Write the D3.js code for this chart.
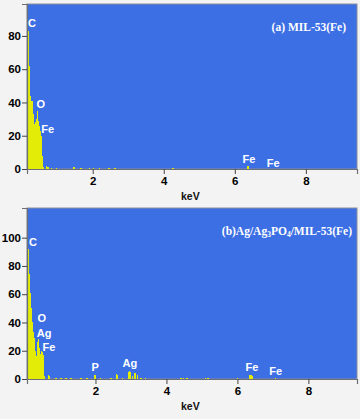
<!DOCTYPE html>
<html>
<head>
<meta charset="utf-8">
<script src="https://cdnjs.cloudflare.com/ajax/libs/d3/7.8.5/d3.min.js"></script>
<style>
	body { margin: 0; background: #f3f3f3; }
	svg { display: block; }
	.tick text { font-family: "Liberation Sans", Arial, sans-serif; font-weight: bold; font-size: 11.5px; fill: #000; }
	.peak { font-family: "Liberation Sans", Arial, sans-serif; font-weight: bold; font-size: 11px; fill: #fff; }
	.title { font-family: "Liberation Serif", "Times New Roman", serif; font-weight: bold; font-size: 11.5px; fill: #fff; }
	.unit { font-family: "Liberation Sans", Arial, sans-serif; font-weight: bold; font-size: 10.5px; fill: #111; }
</style>
</head>
<body>
<script>
// ---- data ----
var xTicks = [2, 4, 6, 8];

// (a) MIL-53(Fe)
var energyA = [0.19, 0.22, 0.25, 0.28, 0.30, 0.33, 0.36, 0.39, 0.42, 0.45, 0.47, 0.50, 0.53, 0.56, 0.59, 0.61,
               0.71, 0.74, 0.85, 0.99, 1.45, 1.49, 1.67, 1.90, 2.02, 2.18, 2.46, 2.63, 4.26, 6.36, 6.39];
var countsA = [83, 62, 44, 41, 41, 33, 27, 28, 30, 35, 29, 26, 23, 20, 8, 1,
               2, 1, 0.5, 0.6, 1.5, 1, 0.8, 0.6, 0.5, 0.7, 0.8, 0.7, 0.6, 2, 2];
var yTicksA = [0, 20, 40, 60, 80];
var peaksA = ["C", "O", "Fe", "Fe", "Fe"];
var peakKeVA = [0.29, 0.54, 0.73, 6.40, 7.08];
var peakYA = [85.4, 36.7, 21.7, 3.6, 1.2];

// (b) Ag/Ag3PO4/MIL-53(Fe)
var energyB = [0.11, 0.14, 0.17, 0.20, 0.23, 0.25, 0.28, 0.31, 0.34, 0.37, 0.39, 0.42, 0.45, 0.48, 0.51, 0.54, 0.56,
               0.68, 0.70, 0.89, 1.03, 1.17, 1.31, 1.59, 1.76, 1.97, 2.00, 2.15, 2.44, 2.59, 2.62, 2.77,
               2.93, 2.96, 2.99, 3.04, 3.10, 3.13, 3.18, 3.28, 3.42, 4.41, 4.49, 4.58, 5.11, 5.17, 6.01,
               6.35, 6.38, 6.41, 7.08];
var countsB = [92, 74, 61, 50, 40, 33, 29, 20, 16, 26, 28, 22, 18, 20, 19, 17, 2,
               3, 2, 1, 0.7, 0.8, 0.6, 0.7, 0.8, 2.5, 3, 0.6, 0.5, 3.5, 3, 0.6,
               5, 6, 5, 2, 4.5, 4, 3, 0.8, 0.6, 0.7, 0.6, 0.7, 0.8, 0.7, 0.8,
               2.5, 3, 2, 1];
var yTicksB = [0, 20, 40, 60, 80, 100];
var peaksB = ["C", "O", "Ag", "Fe", "P", "Ag", "Fe", "Fe"];
var peakKeVB = [0.24, 0.49, 0.55, 0.69, 1.99, 2.97, 6.41, 7.08];
var peakYB = [94.1, 40.3, 29.7, 19.8, 5.7, 8.5, 5.7, 2.8];

var W = 360, H = 419;
var binW = 0.034;

var svg = d3.select("body").append("svg")
	.attr("width", W)
	.attr("height", H);

svg.append("rect").attr("width", W).attr("height", H).attr("fill", "#f3f3f3");

function Panel(box, xDom, yMax, energy, counts, yTicks, peaks, peakKeV, peakY, title, titleRight) {
	var x = d3.scaleLinear().domain(xDom).range([box.l, box.r]);
	var y = d3.scaleLinear().domain([0, yMax]).range([box.b, box.t]);

	// plot area
	svg.append("rect")
		.attr("x", box.l).attr("y", box.t)
		.attr("width", box.r - box.l).attr("height", box.b - box.t)
		.attr("fill", "#3c6fe4")
		.attr("stroke", "#8a8f99")
		.attr("stroke-width", 1);

	// spectrum bars
	var data = energy.map(function(e, i) { return { e: e, v: counts[i] }; });

	svg.append("g").selectAll("rect")
		.data(data)
		.enter().append("rect")
		.attr("x", function(d) { return x(d.e - binW / 2); })
		.attr("width", function(d) { return x(d.e + binW / 2) - x(d.e - binW / 2); })
		.attr("y", function(d) { return y(d.v); })
		.attr("height", function(d) { return Math.max(box.b - y(d.v), 1); })
		.attr("fill", "#e2ec06")
		.attr("shape-rendering", "crispEdges");

	// axes
	var ya = svg.append("g")
		.attr("transform", "translate(" + box.l + ",0)")
		.call(d3.axisLeft(y).tickValues(yTicks).tickSize(5).tickPadding(1));

	var xa = svg.append("g")
		.attr("transform", "translate(0," + box.b + ")")
		.call(d3.axisBottom(x).tickValues(xTicks).tickSize(5).tickPadding(3));

	[ya, xa].forEach(function(a) {
		a.select(".domain").attr("stroke", "#6c6f75").attr("stroke-width", 1.2);
		a.selectAll(".tick line").attr("stroke", "#444");
	});

	svg.append("text")
		.attr("class", "unit")
		.attr("x", box.l + 154)
		.attr("y", box.b + 31)
		.text("keV");

	// peak labels
	svg.append("g").selectAll("text")
		.data(peaks)
		.enter().append("text")
		.attr("class", "peak")
		.attr("text-anchor", "middle")
		.attr("x", function(d, i) { return x(peakKeV[i]); })
		.attr("y", function(d, i) { return y(peakY[i]); })
		.text(function(d) { return d; });

	// title
	var t = svg.append("text")
		.attr("class", "title")
		.attr("text-anchor", "end")
		.attr("x", titleRight)
		.attr("y", box.t + 27);

	title.forEach(function(p) {
		var s = t.append("tspan").text(p.s);
		if (p.sub) s.attr("font-size", "7.5px").attr("dy", 2);
		if (p.back) s.attr("dy", -2);
	});
}

Panel({ l: 27, r: 357, t: 4, b: 169 }, [0.15, 9.44], 99.2,
	energyA, countsA, yTicksA, peaksA, peakKeVA, peakYA,
	[{ s: "(a) MIL-53(Fe)" }], 346);

Panel({ l: 27, r: 357, t: 208, b: 379 }, [0.07, 9.37], 121,
	energyB, countsB, yTicksB, peaksB, peakKeVB, peakYB,
	[{ s: "(b)Ag/Ag" }, { s: "3", sub: true }, { s: "PO", back: true }, { s: "4", sub: true }, { s: "/MIL-53(Fe)", back: true }], 352);
</script>
</body>
</html>
